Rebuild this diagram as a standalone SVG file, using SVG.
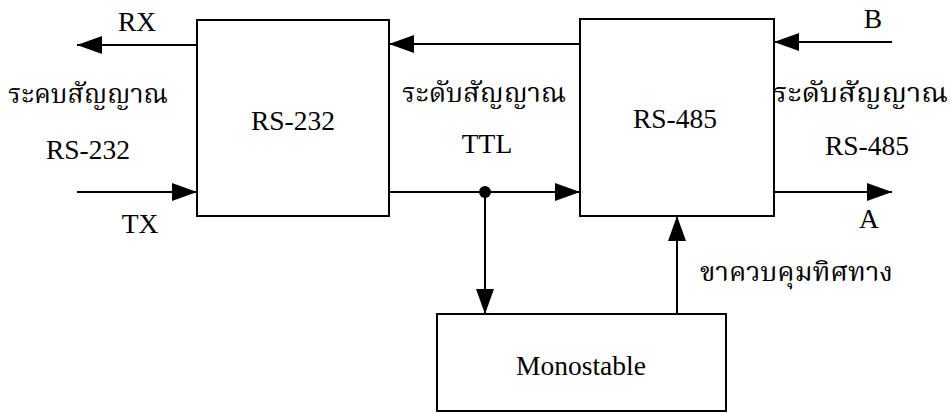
<svg xmlns="http://www.w3.org/2000/svg" width="951" height="413" viewBox="0 0 951 413">
<style>
.box{fill:#fff;stroke:#000;stroke-width:2}
.ln{fill:none;stroke:#000;stroke-width:2;marker-end:url(#ah)}
.t{font-family:"Liberation Serif","Times New Roman",serif;font-size:27.5px;fill:#000}
.th{font-family:"Noto Serif Thai","Noto Sans Thai","Loma","Garuda","Liberation Serif",serif;font-size:27px;fill:#000}
</style>
<defs>
<marker id="ah" markerUnits="userSpaceOnUse" markerWidth="25" markerHeight="18" refX="25" refY="9" orient="auto">
<path d="M0,0 L25,9 L0,18 z" fill="#000"/>
</marker>
</defs>
<rect width="951" height="413" fill="#fff"/>
<g id="connectors">
<line class="ln" x1="197" y1="45" x2="77" y2="45"/>
<line class="ln" x1="77" y1="192" x2="197" y2="192"/>
<line class="ln" x1="580" y1="44" x2="389" y2="44"/>
<line class="ln" x1="389" y1="192" x2="580" y2="192"/>
<circle cx="485" cy="192" r="6" fill="#000"/>
<line class="ln" x1="485" y1="192" x2="485" y2="314"/>
<line class="ln" x1="677" y1="314" x2="677" y2="216"/>
<line class="ln" x1="892" y1="42" x2="774" y2="42"/>
<line class="ln" x1="774" y1="192" x2="892" y2="192"/>
</g>
<g id="rs232">
<rect class="box" x="197" y="20" width="192" height="196"/>
<text class="t" x="293" y="130" text-anchor="middle">RS-232</text>
</g>
<g id="rs485">
<rect class="box" x="580" y="19" width="194" height="197"/>
<text class="t" x="675" y="128" text-anchor="middle">RS-485</text>
</g>
<g id="monostable">
<rect class="box" x="437" y="314" width="289" height="97"/>
<text class="t" x="581" y="375" text-anchor="middle">Monostable</text>
</g>
<g id="labels">
<text class="t" x="137" y="31" text-anchor="middle">RX</text>
<text class="th" x="8" y="103" textLength="160" lengthAdjust="spacingAndGlyphs">ระคบสัญญาณ</text>
<text class="t" x="88" y="159" text-anchor="middle">RS-232</text>
<text class="t" x="140" y="233" text-anchor="middle">TX</text>
<text class="th" x="402" y="102" textLength="164" lengthAdjust="spacingAndGlyphs">ระดับสัญญาณ</text>
<text class="t" x="487" y="153" text-anchor="middle">TTL</text>
<text class="t" x="873" y="28" text-anchor="middle">B</text>
<text class="th" x="773" y="102" textLength="175" lengthAdjust="spacingAndGlyphs">ระดับสัญญาณ</text>
<text class="t" x="867" y="155" text-anchor="middle">RS-485</text>
<text class="t" x="869" y="228" text-anchor="middle">A</text>
<text class="th" x="700" y="281" textLength="193" lengthAdjust="spacingAndGlyphs">ขาควบคุมทิศทาง</text>
</g>
</svg>
